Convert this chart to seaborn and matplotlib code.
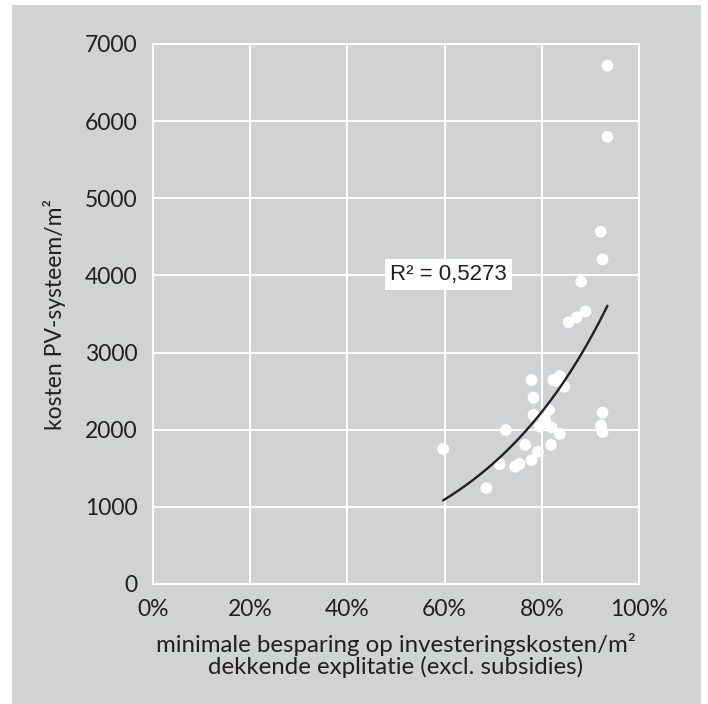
import numpy as np
import pandas as pd
import matplotlib
matplotlib.use("Agg")
import matplotlib.pyplot as plt
from matplotlib.patches import Rectangle
import seaborn as sns

# Minimum saving on investment cost per m² (share) vs PV system cost per m²
besparing = [0.935, 0.935, 0.921, 0.925, 0.881, 0.890, 0.872, 0.855,
             0.779, 0.824, 0.837, 0.827, 0.846, 0.783, 0.815, 0.783,
             0.807, 0.796, 0.820, 0.726, 0.837, 0.925, 0.922, 0.925,
             0.766, 0.819, 0.792, 0.779, 0.597, 0.713, 0.745, 0.754,
             0.686]
kosten = [6719, 5799, 4567, 4209, 3919, 3533, 3457, 3392,
          2645, 2645, 2696, 2632, 2558, 2415, 2256, 2191,
          2135, 2039, 2031, 1996, 1945, 2221, 2057, 1970,
          1802, 1802, 1715, 1607, 1750, 1552, 1521, 1556,
          1244]

x_ticks = [0, 0.2, 0.4, 0.6, 0.8, 1.0]
x_ticklabels = ["0%", "20%", "40%", "60%", "80%", "100%"]
y_ticks = [0, 1000, 2000, 3000, 4000, 5000, 6000, 7000]
r2_label = "R² = 0,5273"

df = pd.DataFrame({"besparing": besparing, "kosten": kosten})

sns.set_theme(style="white")
plt.rcParams["font.family"] = ["Lato", "DejaVu Sans"]

TEXT = "#231f20"
PANEL = "#d1d2d4"

fig = plt.figure(figsize=(7.08, 7.04), dpi=100)
fig.patch.set_facecolor("white")
fig.patches.append(Rectangle((12 / 708, 0), (701 - 12) / 708, (704 - 5) / 704,
                             transform=fig.transFigure, facecolor=PANEL,
                             edgecolor="none", zorder=-10))

ax = fig.add_axes([153 / 708, (704 - 584) / 704, (639 - 153) / 708, (584 - 44) / 704])
ax.set_facecolor(PANEL)

# exponential trend line fitted on log(kosten)
b, ln_a = np.polyfit(df["besparing"], np.log(df["kosten"]), 1)
xs = np.linspace(df["besparing"].min(), df["besparing"].max(), 200)
trend = pd.DataFrame({"besparing": xs, "kosten": np.exp(ln_a + b * xs)})

sns.scatterplot(data=df, x="besparing", y="kosten", ax=ax, color="white",
                s=72, edgecolor="none", zorder=3)
sns.lineplot(data=trend, x="besparing", y="kosten", ax=ax, color=TEXT,
             linewidth=1.7, zorder=4)

ax.set_xlim(0, 1.0)
ax.set_ylim(0, 7000)
ax.set_xticks(x_ticks)
ax.set_xticklabels(x_ticklabels)
ax.set_yticks(y_ticks)
ax.grid(True, color="white", linewidth=1.5)
ax.set_axisbelow(True)
for sp in ax.spines.values():
    sp.set_color("white")
    sp.set_linewidth(1.5)
ax.tick_params(axis="both", length=0, labelsize=16.5, colors=TEXT)
ax.tick_params(axis="y", pad=11)
ax.tick_params(axis="x", pad=11)

ax.set_xlabel("minimale besparing op investeringskosten/m²\ndekkende explitatie (excl. subsidies)",
              fontsize=17.3, color=TEXT, labelpad=9, linespacing=1.0)
ax.set_ylabel("kosten PV-systeem/m²", fontsize=16.5, color=TEXT, labelpad=14)

ax.text(0.608, 4012, r2_label, fontsize=16, color=TEXT, family="Liberation Sans",
        ha="center", va="center", zorder=5,
        bbox=dict(boxstyle="square,pad=0.22", facecolor="white", edgecolor="none"))

fig.savefig("out.png", dpi=100)
